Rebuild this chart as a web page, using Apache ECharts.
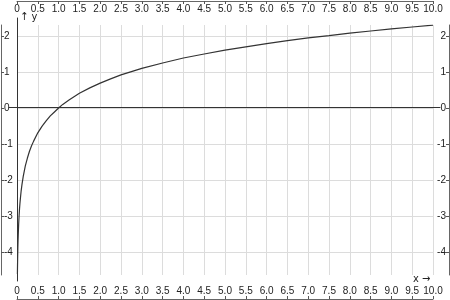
<!DOCTYPE html>
<html><head><meta charset="utf-8">
<script src="https://cdn.jsdelivr.net/npm/echarts@6/dist/echarts.min.js"></script>
<style>html,body{margin:0;padding:0;background:#fff}#c{width:450px;height:300px}</style>
</head><body><div id="c"></div>
<script>
// y = ln(x)
const xValues = [0.01,0.012,0.015,0.02,0.025,0.03,0.04,0.05,0.06,0.07,0.08,0.1,0.12,0.15,0.2,0.25,0.3,0.35,0.4,0.5,0.6,0.7,0.8,0.9,1.0,1.1,1.25,1.5,1.75,2.0,2.25,2.5,2.75,3.0,3.5,4.0,4.5,5.0,5.5,6.0,6.5,7.0,7.5,8.0,8.5,9.0,9.5,10.0];
const yValues = [-4.61,-4.42,-4.2,-3.91,-3.69,-3.51,-3.22,-3.0,-2.81,-2.66,-2.53,-2.3,-2.12,-1.9,-1.61,-1.39,-1.2,-1.05,-0.92,-0.69,-0.51,-0.36,-0.22,-0.11,0.0,0.1,0.22,0.41,0.56,0.69,0.81,0.92,1.01,1.1,1.25,1.39,1.5,1.61,1.7,1.79,1.87,1.95,2.01,2.08,2.14,2.2,2.25,2.3];
const xTickValues = [0,0.5,1,1.5,2,2.5,3,3.5,4,4.5,5,5.5,6,6.5,7,7.5,8,8.5,9,9.5,10];
const xTickLabels = ['0','0.5','1.0','1.5','2.0','2.5','3.0','3.5','4.0','4.5','5.0','5.5','6.0','6.5','7.0','7.5','8.0','8.5','9.0','9.5','10.0'];
const yTickValues = [-4,-3,-2,-1,0,1,2];
const yTickLabels = ['-4','-3','-2','-1','0','1','2'];

const FONT = '"Liberation Sans Narrow","Liberation Sans",sans-serif';
const xMin = 0, xMax = 10, yMin = -4.639, yMax = 2.306;
const pts = xValues.map((x,i)=>[x,yValues[i]]);
const xLbl = v => { const i = xTickValues.indexOf(+v); return i>=0 ? xTickLabels[i] : ''; };
const yLbl = v => { const i = yTickValues.indexOf(+v); return i>=0 ? yTickLabels[i] : ''; };

const frameLine = {show:true, lineStyle:{color:'#666', width:1}};
const lab = {inside:true, margin:3, color:'#222', fontSize:10, fontFamily:FONT};
const tick = {show:true, inside:true, length:3, lineStyle:{color:'#555'}};

const chart = echarts.init(document.getElementById('c'), null, {renderer:'canvas'});
chart.setOption({
  animation:false,
  backgroundColor:'#fff',
  grid:[
    {left:17, right:17, top:25, bottom:25},
    {left:9, right:10, top:18, bottom:19}
  ],
  xAxis:[
    {type:'value', gridIndex:0, position:'bottom', offset:24, min:xMin, max:xMax, interval:0.5,
     axisLine:Object.assign({onZero:false}, frameLine), axisTick:tick,
     axisLabel:Object.assign({formatter:xLbl}, lab),
     splitLine:{show:true, lineStyle:{color:'#dcdcdc', width:1}}},
    {type:'value', gridIndex:0, position:'top', offset:24, min:xMin, max:xMax, interval:0.5,
     axisLine:Object.assign({onZero:false}, frameLine), axisTick:tick,
     axisLabel:Object.assign({formatter:xLbl}, lab),
     splitLine:{show:false}},
    {type:'value', gridIndex:1, min:xMin-8/41.6, max:xMax+7/41.6,
     axisLine:{show:true, onZero:true, lineStyle:{color:'#333', width:1}},
     axisTick:{show:false}, axisLabel:{show:false}, splitLine:{show:false}}
  ],
  yAxis:[
    {type:'value', gridIndex:0, position:'left', offset:16, min:yMin, max:yMax,
     axisLine:Object.assign({onZero:false}, frameLine),
     axisTick:Object.assign({customValues:yTickValues}, tick),
     axisLabel:Object.assign({customValues:yTickValues, formatter:yLbl, align:'left'}, lab),
     splitLine:{show:true, lineStyle:{color:'#dcdcdc', width:1}}},
    {type:'value', gridIndex:0, position:'right', offset:16, min:yMin, max:yMax,
     axisLine:Object.assign({onZero:false}, frameLine),
     axisTick:Object.assign({customValues:yTickValues}, tick),
     axisLabel:Object.assign({customValues:yTickValues, formatter:yLbl, align:'right'}, lab),
     splitLine:{show:false}},
    {type:'value', gridIndex:1, min:yMin-7/36, max:yMax+7/36,
     axisLine:{show:true, onZero:true, lineStyle:{color:'#333', width:1}},
     axisTick:{show:false}, axisLabel:{show:false}, splitLine:{show:false}}
  ],
  graphic:[
    {type:'text', left:20, top:12, style:{text:'↑ y', fill:'#222', font:'11px "DejaVu Sans Condensed","Liberation Sans",sans-serif'}},
    {type:'text', left:413, top:274, style:{text:'x →', fill:'#222', font:'11px "DejaVu Sans Condensed","Liberation Sans",sans-serif'}}
  ],
  series:[{
    type:'line', xAxisIndex:0, yAxisIndex:0, data:pts, showSymbol:false,
    smooth:false, z:5,
    lineStyle:{color:'#333', width:1.2}
  }]
});
</script></body></html>
